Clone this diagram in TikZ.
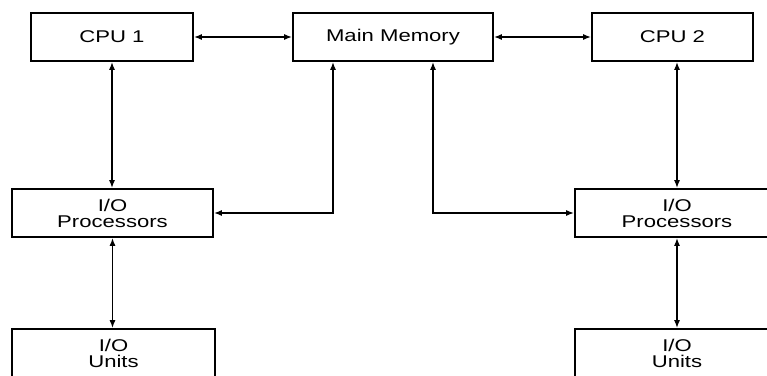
\documentclass[tikz,border=0pt]{standalone}
\usepackage{fontspec}
\setmainfont[FakeStretch=1.3]{Liberation Sans}
\usetikzlibrary{arrows.meta,calc}
\begin{document}
\begin{tikzpicture}[x=1pt,y=-1pt,
  box/.style={draw,line width=1.6pt,minimum height=48pt,inner sep=0pt,align=center,
    font=\fontsize{17}{16}\selectfont},
  link/.style={line width=1.6pt,{Latex[length=8pt,width=6pt]}-{Latex[length=8pt,width=6pt]}}]
\useasboundingbox (0,0) rectangle (767,375);
\clip (0,0) rectangle (767,375);
\node[box,minimum width=162pt] (cpu1) at (112,37) {CPU 1};
\node[box,minimum width=200pt] (mm) at (393,37) {Main Memory};
\node[box,minimum width=161pt] (cpu2) at (672.5,37) {CPU 2};
\node[box,minimum width=201pt] (iop1) at (112.5,213) {I/O\\Processors};
\node[box,minimum width=204pt] (iop2) at (677,213) {I/O\\Processors};
\node[box,minimum width=203pt] (iou1) at (113.5,353) {I/O\\Units};
\node[box,minimum width=204pt] (iou2) at (677,353) {I/O\\Units};
\draw[link] (cpu1.east) -- (mm.west);
\draw[link] (mm.east) -- (cpu2.west);
\draw[link] (cpu1.south) -- (cpu1.south |- iop1.north);
\draw[link] ([xshift=-60pt]mm.south) |- (iop1.east);
\draw[link] ([xshift=40pt]mm.south) |- (iop2.west);
\draw[link] (iop2.north |- cpu2.south) -- (iop2.north);
\draw[link] (iop1.south) -- (iop1.south |- iou1.north);
\draw[link] (iop2.south) -- (iou2.north);
\end{tikzpicture}
\end{document}
